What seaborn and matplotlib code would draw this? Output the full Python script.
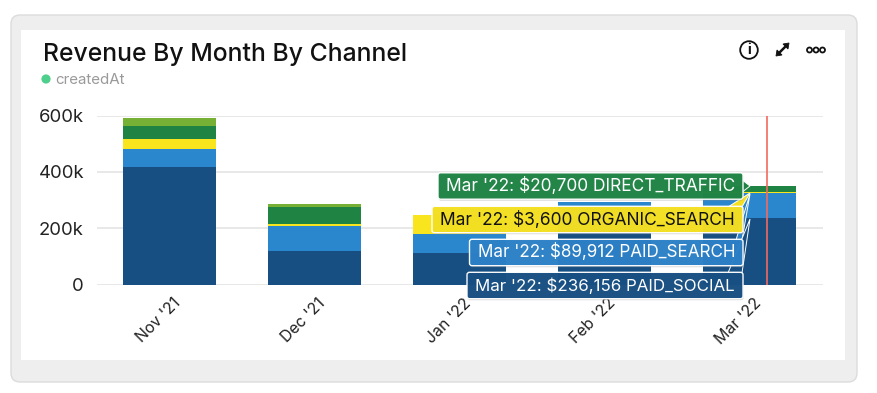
import matplotlib
matplotlib.use("Agg")
import matplotlib.pyplot as plt
from matplotlib.patches import FancyBboxPatch, Circle, Polygon
from matplotlib.transforms import ScaledTranslation
import seaborn as sns
import numpy as np

months = ["Nov '21", "Dec '21", "Jan '22", "Feb '22", "Mar '22"]
paid_social = [417000, 119000, 112000, 190000, 236156]
paid_search = [64000, 89000, 67000, 103000, 89912]
organic_search = [35000, 7000, 66000, 0, 3600]
direct_traffic = [48000, 60000, 0, 0, 20700]
other = [27000, 12000, 0, 0, 0]
series = [("PAID_SOCIAL", paid_social, "#174f82"),
          ("PAID_SEARCH", paid_search, "#2b87cd"),
          ("ORGANIC_SEARCH", organic_search, "#f9e51e"),
          ("DIRECT_TRAFFIC", direct_traffic, "#1e8343"),
          ("OTHER", other, "#76b034")]
yticks = [0, 200000, 400000, 600000]
ylabels = ["0", "200k", "400k", "600k"]

W, H = 877, 393
sns.set_theme(style="white")
plt.rcParams["font.family"] = ["Inter", "DejaVu Sans"]
fig = plt.figure(figsize=(W / 100, H / 100), dpi=100, facecolor="white")

bg = fig.add_axes([0, 0, 1, 1], zorder=0)
bg.set_xlim(0, W); bg.set_ylim(H, 0); bg.axis("off")
bg.add_patch(FancyBboxPatch((11, 15), 846, 367, boxstyle="round,pad=0,rounding_size=9",
                            fc="#eeeeee", ec="#dcdcdc", lw=1))
bg.add_patch(plt.Rectangle((21, 30), 824, 330, fc="white", ec="none"))
bg.text(43, 54.5, "Revenue By Month By Channel", fontsize=17.8, fontweight="medium", color="#111111", va="center")
bg.add_patch(Circle((46, 79), 4.6, fc="#4ecf8c", ec="none"))
bg.text(55, 79.5, "createdAt", fontsize=10.9, color="#9a9a9a", va="center")
# header icons
bg.add_patch(Circle((749, 50), 8.8, fc="none", ec="#111111", lw=1.3))
bg.text(749, 50.5, "i", fontsize=10, fontweight="bold", ha="center", va="center", color="#111111")
bg.plot([778, 787], [54, 45], color="#111111", lw=1.8, solid_capstyle="butt")
bg.add_patch(Polygon([(789, 43), (783, 44), (788, 49)], fc="#111111", ec="#111111", lw=0.6))
bg.add_patch(Polygon([(776, 56), (782, 55), (777, 50)], fc="#111111", ec="#111111", lw=0.6))
for cx in (809.5, 816, 822.5):
    bg.add_patch(Circle((cx, 50), 2.5, fc="none", ec="#111111", lw=1.3))

ax = fig.add_axes([96.5 / W, 1 - 284.5 / H, 726 / W, 169 / H], zorder=1)
ax.patch.set_alpha(0)
bottom = np.zeros(len(months))
for name, vals, col in series:
    sns.barplot(x=months, y=vals, bottom=bottom, color=col, width=0.64, saturation=1, ax=ax, linewidth=0, zorder=3)
    bottom = bottom + np.array(vals)
ax.set_xlim(-0.5, 4.5)
ax.set_ylim(0, 600000)
ax.set_yticks(yticks, ylabels, fontsize=13.3, color="#222222")
ax.set_xticks(range(5), months, fontsize=11.4, color="#222222", rotation=45, ha="right", rotation_mode="anchor")
ax.tick_params(axis="y", length=0, pad=9)
ax.tick_params(axis="x", length=0, pad=8)
shift = ScaledTranslation(3.5 / 100, 0, fig.dpi_scale_trans)
for lab in ax.get_xticklabels():
    lab.set_transform(lab.get_transform() + shift)
ax.set_ylabel(""); ax.set_xlabel("")
ax.grid(axis="y", color="#e4e4e4", lw=1.2, zorder=0)
ax.set_axisbelow(True)
for s in ax.spines.values():
    s.set_visible(False)
# hover cursor line on the March bar
ax.axvline(4.115, 0, 1, color="#f4695f", lw=1.2, zorder=6)

ov = fig.add_axes([0, 0, 1, 1], zorder=2)
ov.set_xlim(0, W); ov.set_ylim(H, 0); ov.axis("off")
tips = [("DIRECT_TRAFFIC", direct_traffic, "#1e8343", "white", 438, 186, 12.5, [(741, 179), (750, 186), (741, 193)]),
        ("ORGANIC_SEARCH", organic_search, "#f5e020", "#111111", 432, 219.5, 12.5, [(728, 207), (750, 193), (742, 207)]),
        ("PAID_SEARCH", paid_search, "#2b80c6", "white", 469.5, 252.5, 12.3, [(736, 240), (750, 194), (742, 240)]),
        ("PAID_SOCIAL", paid_social, "#174f82", "white", 467, 285.5, 12.2, [(728, 273), (750, 219), (742, 273)])]
right = 743
for name, vals, col, tc, left, cy, fs, arrow in tips:
    h = 13.2
    ov.add_patch(Polygon(arrow, fc=col, ec="white", lw=0.7, zorder=2))
    ov.add_patch(FancyBboxPatch((left + 0.5, cy - h + 1.5), right - left, 2 * h, boxstyle="round,pad=0,rounding_size=2.5",
                                fc="#8a8a8a", ec="none", alpha=0.35, zorder=2.5))
    ov.add_patch(FancyBboxPatch((left, cy - h), right - left, 2 * h, boxstyle="round,pad=0,rounding_size=2.5",
                                fc=col, ec="white", lw=1.0, alpha=0.97, zorder=3))
    ov.text(right - 8, cy, f"Mar '22: ${vals[4]:,} {name}", fontsize=fs, color=tc, ha="right", va="center", zorder=4)

fig.savefig("out.png", dpi=100)
